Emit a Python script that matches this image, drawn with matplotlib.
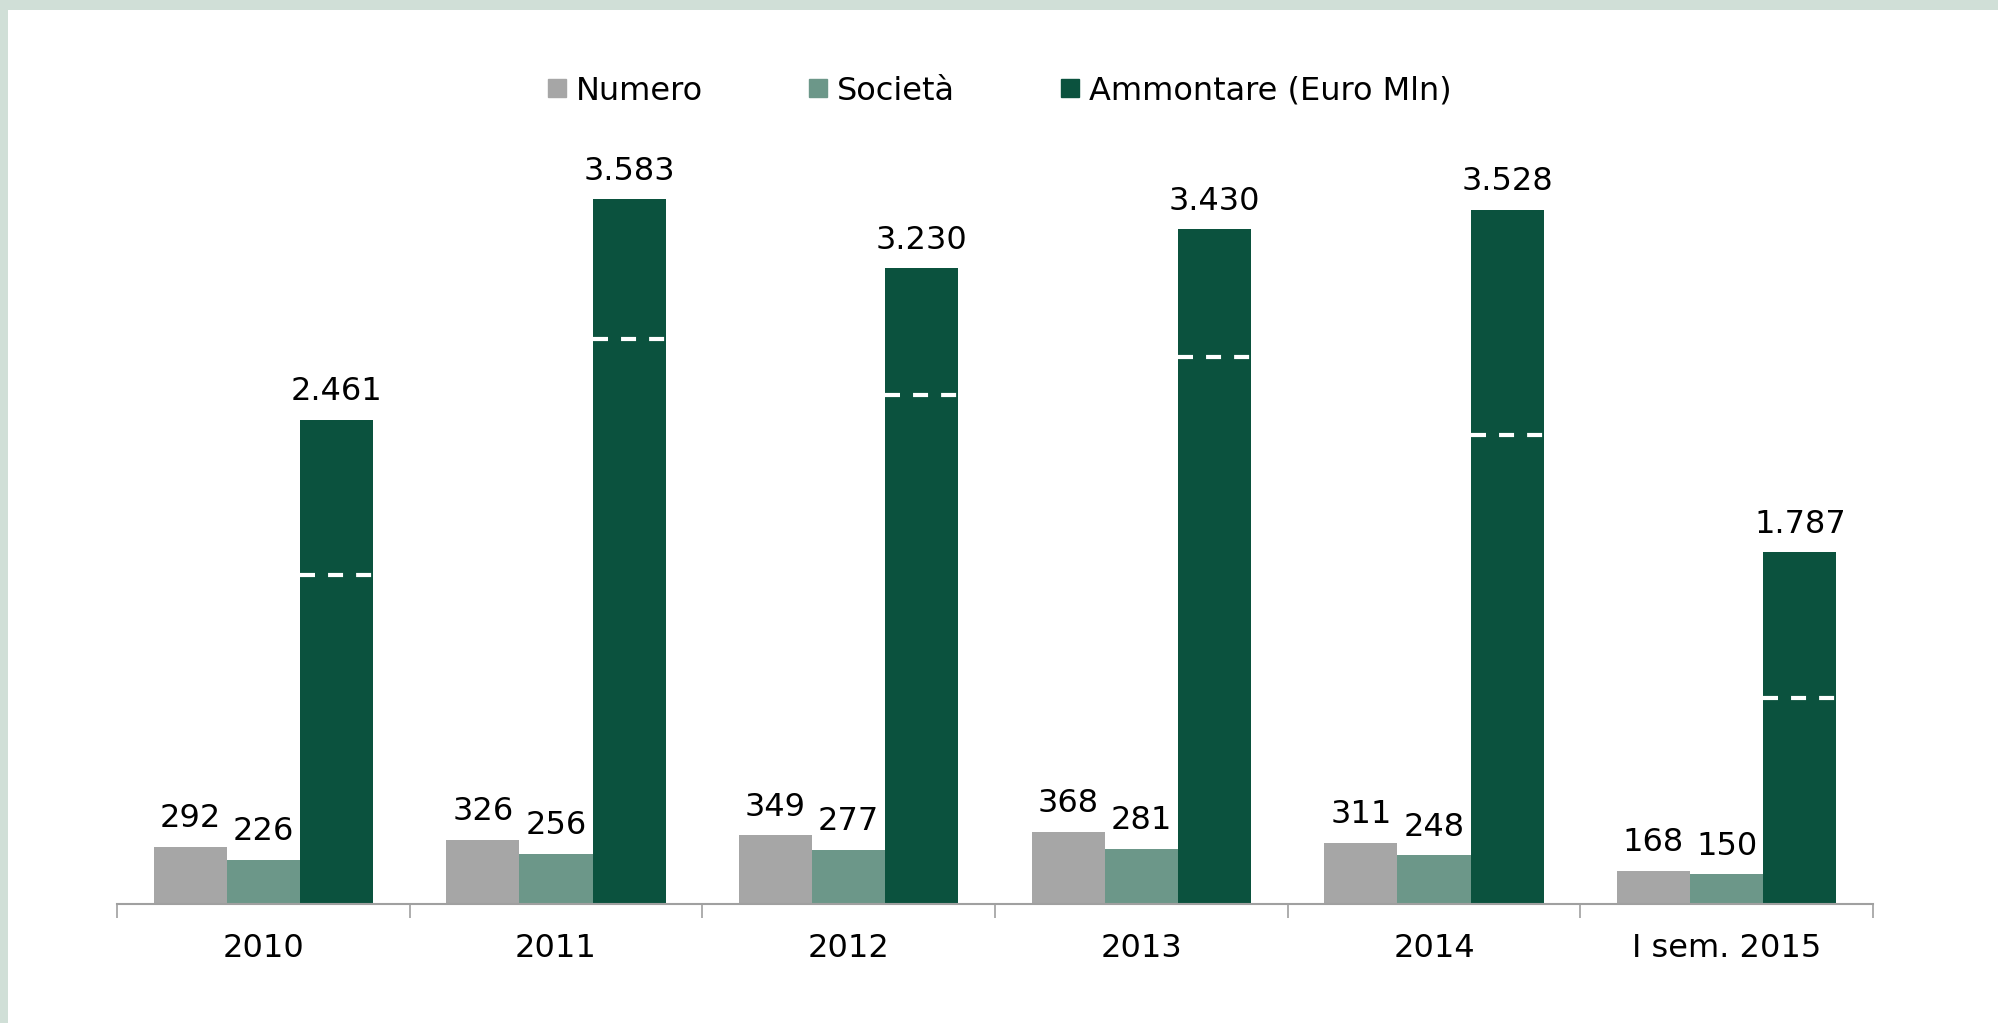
import matplotlib.pyplot as plt
from matplotlib.patches import Rectangle
from matplotlib.lines import Line2D
import numpy as np

categories = ['2010', '2011', '2012', '2013', '2014', 'I sem. 2015']
numero = [292, 326, 349, 368, 311, 168]
societa = [226, 256, 277, 281, 248, 150]
ammontare = [2461, 3583, 3230, 3430, 3528, 1787]
# white dashed marks inside the Ammontare bars
ammontare_quota = [1672, 2872, 2585, 2778, 2382, 1048]

c_num = '#a6a6a6'
c_soc = '#6c9789'
c_amm = '#0b523e'

plt.rcParams['font.family'] = ['DejaVu Sans']

fig = plt.figure(figsize=(19.99, 10.23), dpi=100)
fig.patch.set_facecolor('#d0dfd7')
fig.patches.append(Rectangle((8 / 1999, 0), 1, 1 - 10 / 1023, transform=fig.transFigure,
                             facecolor='white', edgecolor='none', zorder=-5))

ax = fig.add_axes([117 / 1999, 119 / 1023, 1756 / 1999, 787 / 1023])
ax.set_facecolor('none')
ax.set_zorder(2)

x = np.arange(len(categories))
w = 0.25
ax.bar(x - w, numero, w, color=c_num, label='Numero')
ax.bar(x, societa, w, color=c_soc, label='Società')
ax.bar(x + w, ammontare, w, color=c_amm, label='Ammontare (Euro Mln)')

lw = 3
ax.hlines(ammontare_quota, x + w / 2, x + 1.5 * w, colors='white', linewidth=lw,
          linestyles=[(0, (10.8 / lw, 9.4 / lw))])

def fmt(v):
    return f'{v:,}'.replace(',', '.')

for xs, vals in [(x - w, numero), (x, societa), (x + w, ammontare)]:
    for xi, v in zip(xs, vals):
        ax.annotate(fmt(v), (xi, v), xytext=(0, 9), textcoords='offset points',
                    ha='center', va='bottom', fontsize=23)

ax.set_xlim(-0.5, len(categories) - 0.5)
ax.set_ylim(0, 4000)
ax.set_xticks(x)
ax.set_xticklabels(categories, fontsize=23)
ax.tick_params(axis='x', which='major', length=0, pad=21)
ax.set_xticks(np.arange(-0.5, len(categories)), minor=True)
ax.tick_params(axis='x', which='minor', length=10, width=1.2, color='#a0a0a0')
ax.set_yticks([])
for s in ['top', 'right', 'left']:
    ax.spines[s].set_visible(False)
ax.spines['bottom'].set_color('#a0a0a0')
ax.spines['bottom'].set_linewidth(1.5)

handles = [Line2D([], [], marker='s', linestyle='none', markersize=13, color=c)
           for c in (c_num, c_soc, c_amm)]
fig.legend(handles, ['Numero', 'Società', 'Ammontare (Euro Mln)'], loc='center',
           bbox_to_anchor=(0.5, 1 - 91 / 1023), ncol=3, frameon=False, fontsize=23,
           handlelength=0.6, handletextpad=0.3, columnspacing=3.3)

fig.savefig('out.png', dpi=100, facecolor=fig.get_facecolor())
